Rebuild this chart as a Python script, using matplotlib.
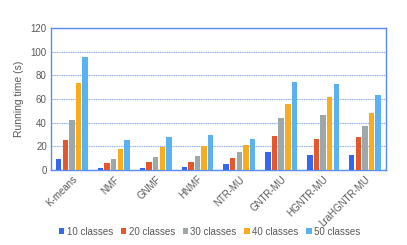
import matplotlib
matplotlib.use("Agg")
import matplotlib.pyplot as plt
import numpy as np

plt.rcParams["font.family"] = ["Liberation Sans", "DejaVu Sans"]

methods = ["K-means", "NMF", "GNMF", "HNMF", "NTR-MU", "GNTR-MU", "HGNTR-MU", "LraHGNTR-MU"]
series_labels = ["10 classes", "20 classes", "30 classes", "40 classes", "50 classes"]
c10 = [9, 2, 2, 2.5, 5.5, 15, 12.5, 13]
c20 = [25, 6, 6.5, 6.5, 10.5, 29, 26.5, 27.5]
c30 = [42, 9.5, 11, 12, 15.5, 44, 46.5, 37.5]
c40 = [73.5, 17.5, 19.5, 20.5, 21, 56, 61.5, 48.5]
c50 = [95.5, 25.5, 27.5, 29.5, 26, 74, 72.5, 63.5]
series = [c10, c20, c30, c40, c50]
colors = ["#3467F0", "#E8562E", "#9DA8AB", "#F9AC1E", "#5BB2F2"]
yticks = [0, 20, 40, 60, 80, 100, 120]

fig = plt.figure(figsize=(4.07, 2.45), dpi=100)
ax = fig.add_axes([0.1253, 0.306, 0.8227, 0.58])
x = np.arange(len(methods))
step = 0.158
bw = 0.13
for i, (vals, lab, col) in enumerate(zip(series, series_labels, colors)):
    ax.bar(x + (i - 2) * step, vals, bw, color=col, label=lab, zorder=3)

ax.set_xlim(-0.5, len(methods) - 0.5)
ax.set_ylim(0, 120)
ax.set_yticks(yticks)
ax.yaxis.grid(True, color="#8FAEEE", linestyle=(0, (1, 0.6)), linewidth=0.8, zorder=0)
for s in ax.spines.values():
    s.set_color("#5B8BF5")
    s.set_linewidth(1.0)
ax.tick_params(axis="both", length=0, labelsize=7, colors="#595959", pad=3)
ax.set_xticks(x)
ax.set_xticklabels(methods, rotation=45, ha="right", rotation_mode="anchor")
ax.set_ylabel("Running time (s)", fontsize=7.5, color="#595959", labelpad=5)
leg = fig.legend(loc="center", bbox_to_anchor=(0.515, 0.055), ncol=5, frameon=False,
                 fontsize=7, handlelength=0.55, handleheight=0.55, handletextpad=0.25,
                 columnspacing=0.8, labelcolor="#595959")
fig.savefig("out.png", dpi=100)
